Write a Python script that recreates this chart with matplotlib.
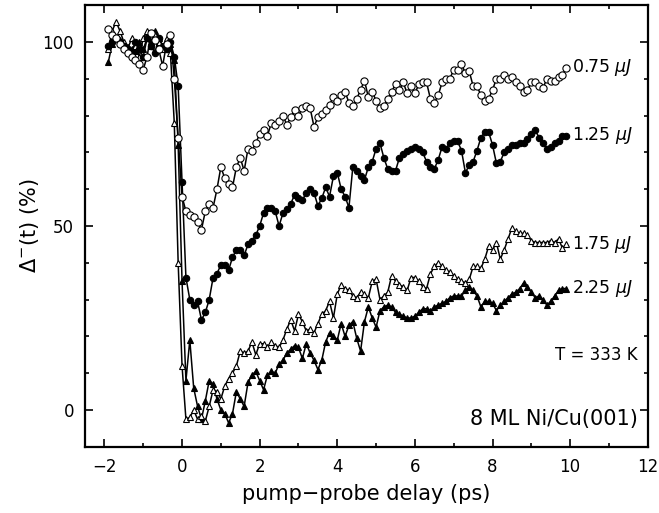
import matplotlib
matplotlib.use("Agg")
import matplotlib.pyplot as plt
from matplotlib.ticker import MultipleLocator

# pump-probe delay (ps), shared sampling grid
delay = [
    -1.9, -1.8, -1.7, -1.6, -1.5, -1.4, -1.3, -1.2, -1.1, -1.0,
    -0.9, -0.8, -0.7, -0.6, -0.5, -0.4, -0.3, -0.2, -0.1,
    0.0, 0.1, 0.2, 0.3, 0.4, 0.5, 0.6, 0.7, 0.8, 0.9, 1.0,
    1.1, 1.2, 1.3, 1.4, 1.5, 1.6, 1.7, 1.8, 1.9, 2.0,
    2.1, 2.2, 2.3, 2.4, 2.5, 2.6, 2.7, 2.8, 2.9, 3.0,
    3.1, 3.2, 3.3, 3.4, 3.5, 3.6, 3.7, 3.8, 3.9, 4.0,
    4.1, 4.2, 4.3, 4.4, 4.5, 4.6, 4.7, 4.8, 4.9, 5.0,
    5.1, 5.2, 5.3, 5.4, 5.5, 5.6, 5.7, 5.8, 5.9, 6.0,
    6.1, 6.2, 6.3, 6.4, 6.5, 6.6, 6.7, 6.8, 6.9, 7.0,
    7.1, 7.2, 7.3, 7.4, 7.5, 7.6, 7.7, 7.8, 7.9, 8.0,
    8.1, 8.2, 8.3, 8.4, 8.5, 8.6, 8.7, 8.8, 8.9, 9.0,
    9.1, 9.2, 9.3, 9.4, 9.5, 9.6, 9.7, 9.8, 9.9,
]

# Delta^-(t) in % for each pump fluence
f075 = [
    103.5, 102, 101, 99.5, 98, 97, 96, 95, 94, 92.5,
    96, 102.5, 100.5, 98, 93.5, 99.5, 102, 90, 74,
    58, 54, 53, 52.5, 51, 49, 54, 56, 55, 60, 66,
    63, 61.5, 60.5, 66, 68.5, 65, 71, 70.5, 72.5, 75,
    76, 74.5, 78, 77.5, 78.5, 80, 77.5, 79.5, 81.5, 80,
    82, 82.5, 82, 77, 79.5, 80.5, 81.5, 83, 85, 84,
    85.5, 86.5, 83.5, 82.5, 84.5, 87, 89.5, 85, 86.5, 84,
    82, 82.5, 84.5, 86.5, 88.5, 87, 89, 86, 88, 86,
    88.5, 89, 89, 84.5, 83.5, 85.5, 89, 90, 90, 92.5,
    92.5, 94, 91.5, 92, 88, 88, 85.5, 84, 84.5, 87,
    90, 90, 91, 90, 90.5, 89, 88, 86.5, 87, 89,
    89, 88, 87.5, 90, 89.5, 89.5, 90.5, 91, 93,
]
f125 = [
    99, 100, 101, 100, 99, 98, 97, 100, 98, 96,
    101, 99, 97, 101, 99, 98, 100, 96, 88,
    62, 36, 30, 28.5, 29.5, 24.5, 26.5, 30, 36, 37, 39.5,
    39.5, 38, 41.5, 43.5, 43.5, 42, 45, 46, 47.5, 50,
    53.5, 55, 55, 54, 50, 53.5, 54.5, 56, 58.5, 57.5,
    57, 59, 60, 59, 55.5, 57.5, 60.5, 58, 63.5, 64.5,
    60, 58, 55, 66, 65, 63.5, 62.5, 66, 67.5, 71,
    72.5, 68.5, 65.5, 65, 65, 68.5, 69.5, 70.5, 71, 71.5,
    71, 70, 67.5, 66, 65.5, 68, 71.5, 71, 72.5, 73,
    73, 70.5, 64.5, 66.5, 67.5, 70.5, 74, 75.5, 75.5, 72,
    67, 67.5, 70, 71, 72, 72, 72.5, 72.5, 73.5, 75,
    76, 74, 72.5, 71, 71.5, 72.5, 73, 74.5, 74.5,
]
f175 = [
    98, 103, 105.5, 103, 100, 98, 101, 99, 96, 101,
    103, 99, 102, 100, 98, 101, 97, 78, 40,
    12, -2.5, -2, 0, -2.5, -1.5, -3, 1, 5.5, 5, 3,
    6.5, 8.5, 10, 12, 16, 15.5, 16, 18.5, 15, 18,
    18, 17, 18.5, 17.5, 17, 19, 22, 24.5, 21.5, 26,
    24, 21.5, 22, 21, 23.5, 26, 27, 29.5, 25, 31.5,
    34, 33, 32.5, 31, 30.5, 32, 31.5, 30.5, 35, 35.5,
    30, 31, 32, 36.5, 35, 34, 33.5, 32.5, 36, 36,
    35, 33.5, 33, 37, 39, 40, 39, 38, 37.5, 36.5,
    35.5, 35, 34.5, 35.5, 39, 39, 38.5, 41, 44.5, 43.5,
    45.5, 41, 43.5, 46.5, 49.5, 48.5, 48, 48, 47.5, 46,
    45.5, 45.5, 45.5, 45.5, 46, 45.5, 46.5, 44, 45,
]
f225 = [
    94.5, 99.5, 101, 100.5, 99, 98.5, 98, 97.5, 100, 98,
    101, 100, 103, 101, 99, 98, 99.5, 95, 72,
    35, 8, 19, 6, 1, -2.5, 2.5, 8, 7, 3, 0,
    -1, -3.5, -1, 5, 3, 1, 7.5, 9.5, 10.5, 8,
    5.5, 9.5, 10.5, 10, 12.5, 13.5, 15.5, 16.5, 17.5, 17,
    14, 18, 15.5, 13.5, 11, 13.5, 18.5, 21, 20, 19,
    23.5, 20, 23, 24, 19.5, 16, 24, 28, 25, 22.5,
    27, 28, 28.5, 28, 26.5, 26, 25.5, 25, 25, 25.5,
    26.5, 27.5, 27.5, 27, 28, 28.5, 29, 29.5, 30.5, 31,
    31, 31, 32.5, 33.5, 32.5, 31, 28, 29.5, 29.5, 29,
    27, 28.5, 29.5, 30.5, 31.5, 32, 33, 34.5, 33.5, 32,
    30.5, 31, 30, 28.5, 29.5, 31, 32.5, 33, 33,
]

labels = [r"0.75 $\mu J$", r"1.25 $\mu J$", r"1.75 $\mu J$", r"2.25 $\mu J$"]

fig = plt.figure(figsize=(6.59, 5.13), dpi=100)
ax = fig.add_axes([0.129, 0.129, 0.854, 0.861])

# (series, marker, face, size) - drawn back to front
styles = [
    (f225, "^", "black", 5.0),
    (f175, "^", "white", 4.2),
    (f125, "o", "black", 4.6),
    (f075, "o", "white", 5.2),
]
for ys, mk, face, ms in styles:
    ax.plot(delay, ys, color="black", lw=1.1, marker=mk, ms=ms,
            mfc=face, mec="black", mew=0.8)

for ys, lab in zip([f075, f125, f175, f225], labels):
    ax.text(delay[-1] + 0.15, ys[-1], lab, ha="left", va="center", fontsize=12.5)

ax.text(11.75, 15, "T = 333 K", ha="right", va="center", fontsize=12)
ax.text(11.75, -2.5, "8 ML Ni/Cu(001)", ha="right", va="center", fontsize=15)

ax.set_xlim(-2.5, 12)
ax.set_ylim(-10, 110)
ax.xaxis.set_major_locator(MultipleLocator(2))
ax.xaxis.set_minor_locator(MultipleLocator(1))
ax.yaxis.set_major_locator(MultipleLocator(50))
ax.yaxis.set_minor_locator(MultipleLocator(10))
ax.tick_params(which="both", direction="in", top=True, right=True,
               width=1.2, labelsize=12)
ax.tick_params(which="major", length=6, pad=8)
ax.tick_params(which="minor", length=3)
for sp in ax.spines.values():
    sp.set_linewidth(1.6)

ax.set_xlabel("pump\u2212probe delay (ps)", fontsize=15, labelpad=6)
ax.set_ylabel(r"$\Delta^{-}$(t) (%)", fontsize=15, labelpad=1)

fig.savefig("out.png", dpi=100, facecolor="white")
